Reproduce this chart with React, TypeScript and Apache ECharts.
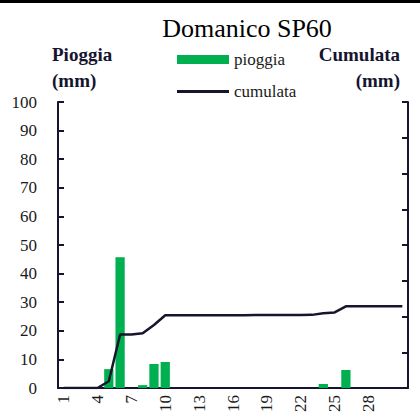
import React, { useEffect, useRef } from "react";
import * as echarts from "echarts";

const days: string[] = Array.from({ length: 31 }, (_, i) => String(i + 1));
const pioggia: number[] = [0, 0, 0, 0, 6.6, 45.7, 0, 1.0, 8.4, 9.1, 0, 0, 0, 0, 0, 0, 0, 0, 0, 0, 0, 0, 0, 1.4, 0, 6.3, 0, 0, 0, 0, 0];
const cumulata: number[] = [0, 0, 0, 0, 6.6, 52.3, 52.3, 53.5, 61.7, 71.2, 71.2, 71.2, 71.2, 71.2, 71.2, 71.2, 71.2, 71.4, 71.4, 71.4, 71.4, 71.4, 71.6, 73.2, 74.0, 80.0, 80.0, 80.0, 80.0, 80.0, 80.0];
const leftTicks = { min: 0, max: 100, interval: 10 };
const rightTicks = { min: 0, max: 280, interval: 35 };

const FONT = "'Liberation Serif', 'Times New Roman', serif";
const DARK = "#15152e";
const GREEN = "#00b050";

export default function App() {
  const ref = useRef<HTMLDivElement>(null);
  useEffect(() => {
    if (!ref.current) return;
    const chart = echarts.init(ref.current, undefined, { renderer: "svg" });
    const legendText = { fontFamily: FONT, fontSize: 17, color: "#1a1a1a" };
    chart.setOption({
      animation: false,
      backgroundColor: "#ffffff",
      title: {
        text: "Domanico SP60",
        left: 242,
        top: 10,
        textAlign: "center",
        textStyle: { fontFamily: FONT, fontSize: 26, fontWeight: "normal", color: "#000" },
      },
      legend: [
        {
          padding: 0,
          left: 177,
          top: 51,
          itemWidth: 52,
          itemHeight: 9,
          textStyle: legendText,
          data: [{ name: "pioggia", icon: "rect" }],
        },
        {
          padding: 0,
          left: 177,
          top: 83,
          itemWidth: 52,
          itemHeight: 3,
          textStyle: legendText,
          data: [{ name: "cumulata", icon: "rect" }],
        },
      ],
      graphic: [
        { type: "rect", left: 0, top: 0, shape: { x: 0, y: 0, width: 420, height: 3 }, style: { fill: "#000" } },
        { type: "text", left: 52, top: 45, style: { text: "Pioggia", font: `bold 19px ${FONT}`, fill: DARK } },
        { type: "text", left: 52, top: 71, style: { text: "(mm)", font: `bold 19px ${FONT}`, fill: DARK } },
        { type: "text", right: 20, top: 45, style: { text: "Cumulata", font: `bold 19px ${FONT}`, fill: DARK } },
        { type: "text", right: 20, top: 71, style: { text: "(mm)", font: `bold 19px ${FONT}`, fill: DARK } },
      ],
      grid: { left: 58, right: 12, top: 102, bottom: 29 },
      xAxis: {
        type: "category",
        data: days,
        boundaryGap: true,
        axisLine: { lineStyle: { color: DARK, width: 2 } },
        axisTick: { show: false },
        axisLabel: {
          interval: (i: number) => i % 3 === 0 && i < 30,
          rotate: 90,
          margin: 7,
          fontFamily: FONT,
          fontSize: 17,
          color: "#1a1a1a",
        },
      },
      yAxis: [
        {
          type: "value",
          min: leftTicks.min,
          max: leftTicks.max,
          interval: leftTicks.interval,
          axisLine: { show: true, lineStyle: { color: DARK, width: 2 } },
          axisTick: { show: true, inside: true, length: 6, lineStyle: { color: DARK, width: 2 } },
          axisLabel: { fontFamily: FONT, fontSize: 17, color: "#1a1a1a", margin: 21 },
          splitLine: { show: false },
        },
        {
          type: "value",
          position: "right",
          min: rightTicks.min,
          max: rightTicks.max,
          interval: rightTicks.interval,
          axisLine: { show: true, lineStyle: { color: DARK, width: 2 } },
          axisTick: { show: true, inside: true, length: 6, lineStyle: { color: DARK, width: 2 } },
          axisLabel: { show: false },
          splitLine: { show: false },
        },
      ],
      series: [
        {
          name: "pioggia",
          type: "bar",
          data: pioggia,
          yAxisIndex: 0,
          barWidth: "82%",
          itemStyle: { color: GREEN },
        },
        {
          name: "cumulata",
          type: "line",
          data: cumulata,
          yAxisIndex: 1,
          symbol: "none",
          lineStyle: { color: DARK, width: 2.5 },
          itemStyle: { color: DARK },
        },
      ],
    });
    return () => chart.dispose();
  }, []);
  return (
    <div
      ref={ref}
      style={{ position: "fixed", left: 0, top: 0, width: 420, height: 417, background: "#fff" }}
    />
  );
}
